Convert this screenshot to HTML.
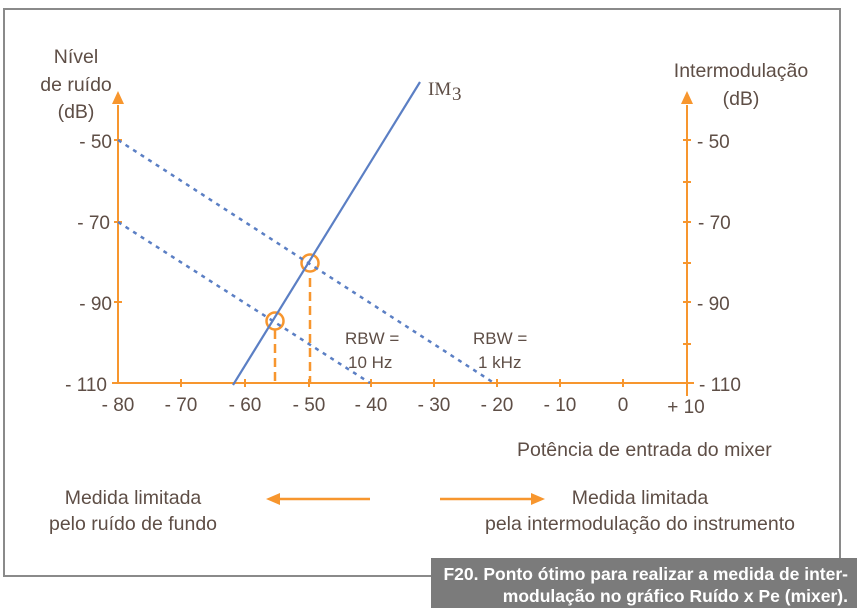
<!DOCTYPE html>
<html><head><meta charset="utf-8"><style>
body{margin:0;background:#fff;width:857px;height:612px;overflow:hidden}
svg{display:block}
text{font-family:"Liberation Sans",sans-serif;fill:#5e4e46}
</style></head><body>
<svg width="857" height="612" viewBox="0 0 857 612">
<rect width="857" height="612" fill="#fff"/>
<polyline points="431,576 4,576 4,9 840,9 840,558" fill="none" stroke="#8a8a8a" stroke-width="2"/>
<rect x="431" y="558" width="426" height="50" fill="#7b7b7b"/>
<text x="848" y="580" text-anchor="end" style="fill:#fff;font-weight:bold;font-size:17.5px">F20. Ponto ótimo para realizar a medida de inter-</text>
<text x="848" y="602" text-anchor="end" style="fill:#fff;font-weight:bold;font-size:17.5px">modulação no gráfico Ruído x Pe (mixer).</text>

<g stroke="#f7962e" stroke-width="2" fill="none">
<line x1="118" y1="105" x2="118" y2="384"/>
<line x1="112" y1="383" x2="694" y2="383"/>
<line x1="687" y1="105" x2="687" y2="396"/>
<line x1="114" y1="140" x2="122" y2="140"/><line x1="114" y1="222" x2="122" y2="222"/><line x1="114" y1="302" x2="122" y2="302"/>
<line x1="683" y1="140" x2="691" y2="140"/><line x1="683" y1="182" x2="691" y2="182"/><line x1="683" y1="222" x2="691" y2="222"/><line x1="683" y1="263" x2="691" y2="263"/><line x1="683" y1="302" x2="691" y2="302"/><line x1="683" y1="344" x2="691" y2="344"/>
<line x1="181" y1="379" x2="181" y2="387"/><line x1="245" y1="379" x2="245" y2="387"/><line x1="309" y1="379" x2="309" y2="387"/><line x1="371" y1="379" x2="371" y2="387"/><line x1="434" y1="379" x2="434" y2="387"/><line x1="497" y1="379" x2="497" y2="387"/><line x1="560" y1="379" x2="560" y2="387"/><line x1="623" y1="379" x2="623" y2="387"/>
<line x1="310" y1="278" x2="310" y2="383" stroke-dasharray="9,5" stroke-width="2.5"/>
<line x1="275" y1="330" x2="275" y2="383" stroke-dasharray="9,5" stroke-width="2.5"/>
<circle cx="310" cy="263" r="8.5" stroke-width="2.5"/>
<circle cx="275" cy="321" r="8.5" stroke-width="2.5"/>
<line x1="278" y1="499" x2="370" y2="499" stroke-width="2.5"/>
<line x1="440" y1="499" x2="532" y2="499" stroke-width="2.5"/>
</g>
<g fill="#f7962e">
<polygon points="118,91 112,104 124,104"/>
<polygon points="687,91 681,104 693,104"/>
<polygon points="266,499 280,493 280,505"/>
<polygon points="545,499 531,493 531,505"/>
</g>
<g stroke="#5b7fc4" fill="none">
<line x1="233" y1="385" x2="420" y2="82" stroke-width="2.2"/>
<line x1="118" y1="140" x2="494" y2="383" stroke-width="2.5" stroke-dasharray="4,5"/>
<line x1="118" y1="222" x2="370" y2="383" stroke-width="2.5" stroke-dasharray="4,5"/>
</g>
<g font-size="19.5">
<text x="76" y="63" text-anchor="middle">Nível</text>
<text x="76" y="91" text-anchor="middle">de ruído</text>
<text x="76" y="118" text-anchor="middle">(dB)</text>
<text x="741" y="77" text-anchor="middle">Intermodulação</text>
<text x="741" y="105" text-anchor="middle">(dB)</text>
<text x="428" y="95" style="font-family:'Liberation Serif',serif;font-size:19px">IM</text>
<text x="452" y="100" style="font-family:'Liberation Serif',serif;font-size:19px">3</text>
</g>
<g font-size="19">
<g text-anchor="end"><text x="112" y="148">- 50</text><text x="110" y="229">- 70</text><text x="112" y="310">- 90</text><text x="107" y="391">- 110</text></g>
<text x="697" y="148">- 50</text><text x="698" y="229">- 70</text><text x="697" y="310">- 90</text><text x="699" y="391">- 110</text>
<g text-anchor="middle"><text x="118" y="411">- 80</text><text x="181" y="411">- 70</text><text x="245" y="411">- 60</text><text x="309" y="411">- 50</text><text x="371" y="411">- 40</text><text x="434" y="411">- 30</text><text x="497" y="411">- 20</text><text x="560" y="411">- 10</text><text x="623" y="411">0</text><text x="686" y="413">+ 10</text></g>
</g>
<g font-size="19.5">
<text x="517" y="456">Potência de entrada do mixer</text>
<text x="133" y="504" text-anchor="middle">Medida limitada</text>
<text x="133" y="530" text-anchor="middle">pelo ruído de fundo</text>
<text x="640" y="504" text-anchor="middle">Medida limitada</text>
<text x="640" y="530" text-anchor="middle">pela intermodulação do instrumento</text>
</g>
<g font-size="17">
<text x="345" y="344">RBW =</text><text x="348" y="368">10 Hz</text>
<text x="473" y="344">RBW =</text><text x="478" y="368">1 kHz</text>
</g>
</svg>
</body></html>
